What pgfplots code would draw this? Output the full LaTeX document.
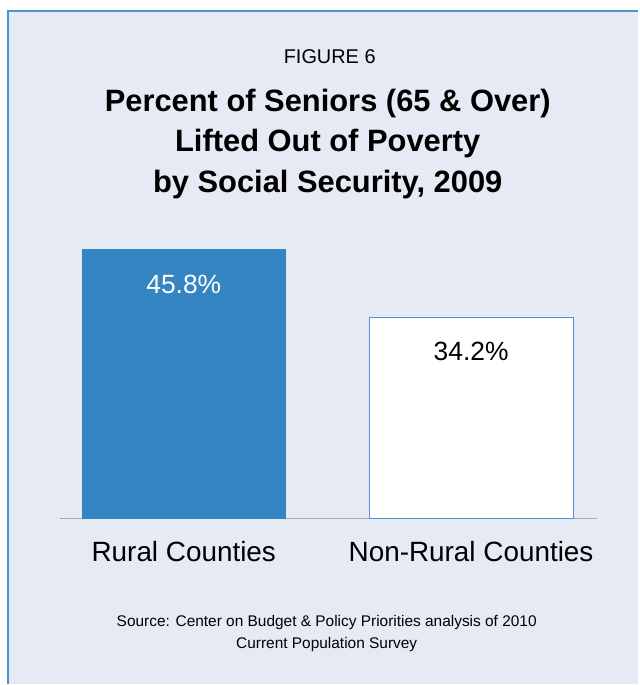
\documentclass[border=0pt]{standalone}
\usepackage{fontspec}
\setmainfont{Liberation Sans}
\usepackage{pgfplots}
\pgfplotsset{compat=1.18}
\definecolor{bg}{HTML}{E6EAF5}
\definecolor{frame}{HTML}{4B93D1}
\definecolor{barblue}{HTML}{3585C2}
\definecolor{baseln}{HTML}{A5A9B4}
\begin{document}
\begin{tikzpicture}[x=1bp,y=1bp]
\fill[white] (0,0) rectangle (639,685);
\fill[bg] (8,0) rectangle (639,674);
\draw[frame, line width=1.2bp] (8,0) -- (8,674) -- (639,674);
\node[anchor=base, font=\fontsize{20}{24}\selectfont] at (330,621) {FIGURE 6};
\node[anchor=base, font=\fontsize{31}{36}\selectfont\bfseries] at (328,573) {Percent of Seniors (65 \& Over)};
\node[anchor=base, font=\fontsize{31}{36}\selectfont\bfseries] at (328,533) {Lifted Out of Poverty};
\node[anchor=base, font=\fontsize{31}{36}\selectfont\bfseries] at (328,492) {by Social Security, 2009};
\node[anchor=base, font=\fontsize{15.5}{18}\selectfont] at (327,58) {Source: Center on Budget \& Policy Priorities analysis of 2010};
\node[anchor=base, font=\fontsize{15.5}{18}\selectfont] at (327,36) {Current Population Survey};
\begin{axis}[
  at={(60bp,166bp)}, anchor=south west,
  scale only axis, width=538bp, height=294.75bp,
  xmin=-0.431, xmax=1.44, ymin=0, ymax=50,
  axis x line*=bottom, axis y line=none,
  x axis line style={draw=baseln, line width=1bp, -},
  xtick={0,1}, xticklabels={Rural Counties, Non-Rural Counties},
  xtick style={draw=none},
  xticklabel style={font=\fontsize{28}{32}\selectfont, anchor=base, yshift=-39bp},
  /pgf/number format/assume math mode=true,
  ybar, bar width=204bp,
  clip=false,
]
\addplot[bar shift=0pt, fill=barblue, draw=barblue,
  nodes near coords={\pgfmathprintnumber[fixed,fixed zerofill,precision=1]{\pgfplotspointmeta}\%},
  every node near coord/.append style={anchor=base, yshift=-45bp, text=white, font=\fontsize{26.5}{30}\selectfont}]
  coordinates {(0,45.8)};
\addplot[bar shift=0pt, fill=white, draw=frame, line width=0.8bp,
  nodes near coords={\pgfmathprintnumber[fixed,fixed zerofill,precision=1]{\pgfplotspointmeta}\%},
  every node near coord/.append style={anchor=base, yshift=-43bp, text=black, font=\fontsize{26.5}{30}\selectfont}]
  coordinates {(1,34.2)};
\end{axis}
\end{tikzpicture}
\end{document}
